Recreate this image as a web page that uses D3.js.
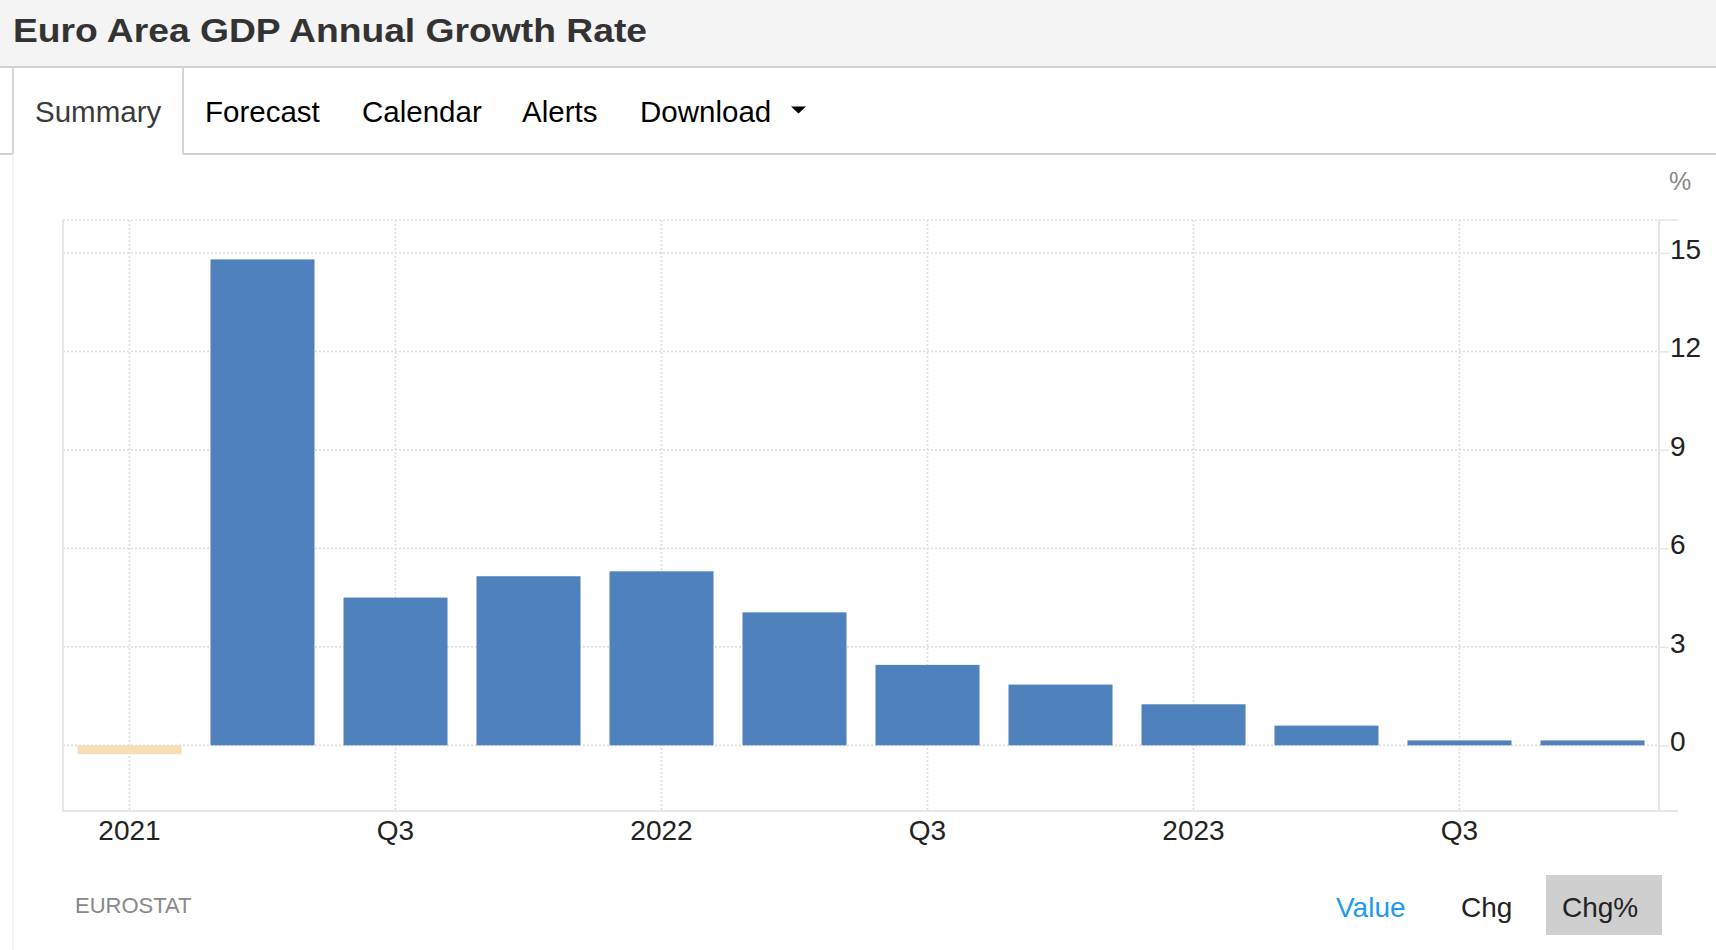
<!DOCTYPE html>
<html>
<head>
<meta charset="utf-8">
<script src="https://cdn.jsdelivr.net/npm/d3@7"></script>
<style>
  html, body { margin: 0; padding: 0; background: #fff; }
  svg { display: block; font-family: "Liberation Sans", Arial, Helvetica, sans-serif; }
</style>
</head>
<body>
<svg id="chart" width="1716" height="950"></svg>
<script>
// ---- data ----
const categories = ["2021 Q1","2021 Q2","2021 Q3","2021 Q4","2022 Q1","2022 Q2","2022 Q3","2022 Q4","2023 Q1","2023 Q2","2023 Q3","2023 Q4"];
const values = [-0.27, 14.8, 4.5, 5.15, 5.3, 4.05, 2.45, 1.85, 1.25, 0.6, 0.15, 0.15];
const xTickIndex = [0, 2, 4, 6, 8, 10];
const xTickLabels = ["2021", "Q3", "2022", "Q3", "2023", "Q3"];
const yTicks = [0, 3, 6, 9, 12, 15];
const tabs = ["Summary", "Forecast", "Calendar", "Alerts", "Download"];
const tabX = [35, 205, 362, 522, 640];
const toggles = ["Value", "Chg", "Chg%"];
const toggleX = [1336, 1461, 1562];

const svg = d3.select("#chart");

// ---- header ----
svg.append("rect").attr("x", 0).attr("y", 0).attr("width", 1716).attr("height", 66).attr("fill", "#f4f4f4");
svg.append("line").attr("x1", 0).attr("x2", 1716).attr("y1", 67).attr("y2", 67).attr("stroke", "#d0d0d0").attr("stroke-width", 2);
svg.append("text").attr("x", 13).attr("y", 42).attr("font-size", 34).attr("font-weight", "bold")
  .attr("fill", "#333").attr("textLength", 634).attr("lengthAdjust", "spacingAndGlyphs")
  .text("Euro Area GDP Annual Growth Rate");

// ---- tabs ----
const tabLine = 154;
svg.append("line").attr("x1", 0).attr("x2", 13).attr("y1", tabLine).attr("y2", tabLine).attr("stroke", "#d0d0d0").attr("stroke-width", 2);
svg.append("line").attr("x1", 183).attr("x2", 1716).attr("y1", tabLine).attr("y2", tabLine).attr("stroke", "#d0d0d0").attr("stroke-width", 2);
svg.append("line").attr("x1", 13).attr("x2", 13).attr("y1", 67).attr("y2", tabLine).attr("stroke", "#d6d6d6").attr("stroke-width", 2);
svg.append("line").attr("x1", 183).attr("x2", 183).attr("y1", 67).attr("y2", tabLine).attr("stroke", "#d6d6d6").attr("stroke-width", 2);
svg.append("line").attr("x1", 13).attr("x2", 13).attr("y1", tabLine).attr("y2", 950).attr("stroke", "#f2f2f2").attr("stroke-width", 2);

svg.selectAll("text.tab").data(tabs).join("text").attr("class", "tab")
  .attr("x", (d, i) => tabX[i]).attr("y", 122).attr("font-size", 29.5)
  .attr("fill", (d, i) => i === 0 ? "#3a3a3a" : "#000").text(d => d);
svg.append("path").attr("d", "M791,106.5 L806,106.5 L798.5,113.5 Z").attr("fill", "#000");

// ---- chart ----
const plot = { left: 63, right: 1659, top: 220, bottom: 811 };
const x = d3.scaleBand().domain(categories).range([plot.left, plot.right]).paddingInner(0.218).paddingOuter(0.109);
const y = d3.scaleLinear().domain([-2, 16]).range([plot.bottom, plot.top]);

const g = svg.append("g");
// horizontal grid
g.selectAll("line.hgrid").data(yTicks).join("line").attr("class", "hgrid")
  .attr("x1", plot.left).attr("x2", plot.right).attr("y1", d => y(d)).attr("y2", d => y(d))
  .attr("stroke", "#dedede").attr("stroke-width", 1.6).attr("stroke-dasharray", "2,2");
g.append("line").attr("x1", plot.left).attr("x2", plot.right).attr("y1", plot.top).attr("y2", plot.top)
  .attr("stroke", "#dedede").attr("stroke-width", 1.6).attr("stroke-dasharray", "2,2");
// vertical grid
const xc = i => x(categories[i]) + x.bandwidth() / 2;
g.selectAll("line.vgrid").data(xTickIndex).join("line").attr("class", "vgrid")
  .attr("x1", d => xc(d)).attr("x2", d => xc(d)).attr("y1", plot.top).attr("y2", plot.bottom)
  .attr("stroke", "#dedede").attr("stroke-width", 1.6).attr("stroke-dasharray", "2,2");

// bars
g.selectAll("rect.bar").data(values).join("rect").attr("class", "bar")
  .attr("x", (d, i) => x(categories[i])).attr("width", x.bandwidth())
  .attr("y", d => y(Math.max(0, d))).attr("height", d => Math.abs(y(d) - y(0)))
  .attr("fill", d => d < 0 ? "#f5deb3" : "#4f81bd");

// axis lines
g.append("line").attr("x1", plot.left).attr("x2", plot.left).attr("y1", plot.top).attr("y2", plot.bottom + 1).attr("stroke", "#e6e6e6").attr("stroke-width", 2);
g.append("line").attr("x1", plot.left).attr("x2", plot.right + 19).attr("y1", plot.bottom).attr("y2", plot.bottom).attr("stroke", "#e6e6e6").attr("stroke-width", 2);
g.append("line").attr("x1", plot.right).attr("x2", plot.right).attr("y1", plot.top).attr("y2", plot.bottom).attr("stroke", "#e6e6e6").attr("stroke-width", 2);
g.append("line").attr("x1", plot.right).attr("x2", plot.right + 19).attr("y1", plot.top).attr("y2", plot.top).attr("stroke", "#e6e6e6").attr("stroke-width", 1.5);

// y axis (right)
const yAxis = d3.axisRight(y).tickValues(yTicks).tickSize(10).tickPadding(1).tickFormat(d3.format("d"));
const ya = svg.append("g").attr("transform", `translate(${plot.right},0)`).call(yAxis);
ya.select(".domain").remove();
ya.selectAll(".tick line").attr("stroke", "#e6e6e6").attr("stroke-width", 1.5);
ya.selectAll(".tick text").attr("font-size", 28).attr("fill", "#222").attr("dy", "0.2em")
  .attr("font-family", "\"Liberation Sans\", Arial, sans-serif");

svg.append("text").attr("x", 1669).attr("y", 190).attr("font-size", 25).attr("fill", "#888").text("%");

// x axis
const xAxis = d3.axisBottom(x).tickValues(xTickIndex.map(i => categories[i]))
  .tickFormat((d) => xTickLabels[xTickIndex.indexOf(categories.indexOf(d))]).tickSize(0).tickPadding(0);
const xa = svg.append("g").attr("transform", `translate(0,${plot.bottom})`).call(xAxis);
xa.select(".domain").remove();
xa.selectAll(".tick text").attr("font-size", 28).attr("fill", "#222").attr("dy", null).attr("y", 29)
  .attr("font-family", "\"Liberation Sans\", Arial, sans-serif");

// ---- footer ----
svg.append("text").attr("x", 75).attr("y", 913).attr("font-size", 22).attr("fill", "#888").text("EUROSTAT");
svg.append("rect").attr("x", 1546).attr("y", 875).attr("width", 116).attr("height", 60).attr("fill", "#cfcfcf");
svg.selectAll("text.toggle").data(toggles).join("text").attr("class", "toggle")
  .attr("x", (d, i) => toggleX[i]).attr("y", 917).attr("font-size", 28)
  .attr("fill", (d, i) => i === 0 ? "#1e9af0" : "#222").text(d => d);
</script>
</body>
</html>
